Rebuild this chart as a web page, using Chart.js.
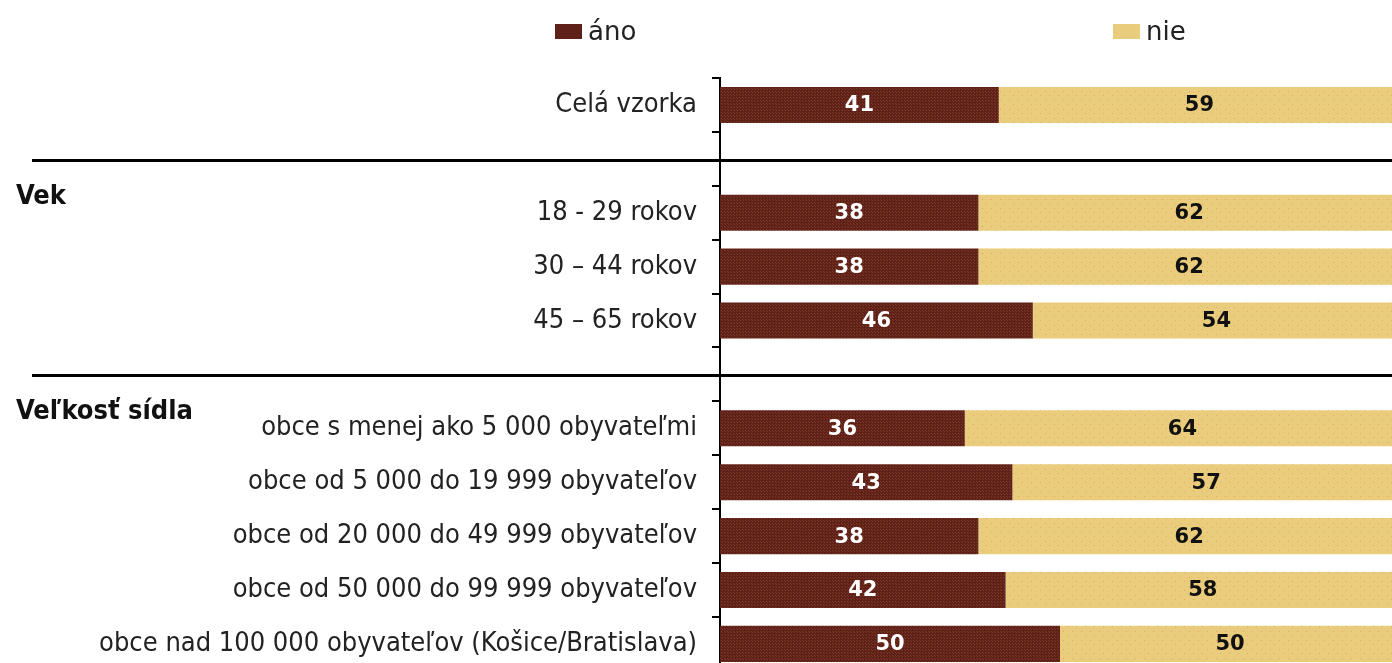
<!DOCTYPE html>
<html>
<head>
<meta charset="utf-8">
<script src="https://cdn.jsdelivr.net/npm/chart.js@4/dist/chart.umd.min.js"></script>
<style>
  html, body { margin: 0; padding: 0; background: #fff; overflow: hidden; width: 1392px; height: 663px; }
  #c { position: absolute; left: 0; top: 0; }
  .leg { position: absolute; font-family: "DejaVu Sans", sans-serif; font-size: 26px; color: #222; line-height: 30px; }
  .box { position: absolute; width: 27px; height: 15px; }
</style>
</head>
<body>
<canvas id="c" width="1400" height="702"></canvas>
<div class="box" id="boxA" style="left:555px; top:24px;"></div>
<div class="leg" id="legA" style="left:588px; top:16px;"></div>
<div class="box" id="boxN" style="left:1113px; top:24px;"></div>
<div class="leg" id="legN" style="left:1146px; top:16px;"></div>
<script>
// ---- data ----
const categories = [
  "Celá vzorka",
  "",
  "18 - 29 rokov",
  "30 – 44 rokov",
  "45 – 65 rokov",
  "",
  "obce s menej ako 5 000 obyvateľmi",
  "obce od 5 000 do 19 999 obyvateľov",
  "obce od 20 000 do 49 999 obyvateľov",
  "obce od 50 000 do 99 999 obyvateľov",
  "obce nad 100 000 obyvateľov (Košice/Bratislava)"
];
const seriesNames = ["áno", "nie"];
const anoValues = [41, null, 38, 38, 46, null, 36, 43, 38, 42, 50];
const nieValues = [59, null, 62, 62, 54, null, 64, 57, 62, 58, 50];
const separatorRows = [1, 5];
const sectionHeadings = ["Vek", "Veľkosť sídla"];
const sectionHeadingRows = [1.5, 5.5];

// ---- styles ----
const BROWN = "#5e2019";
const TAN = "#e9cd7c";

function makePattern(base, dot, step) {
  const c = document.createElement("canvas");
  c.width = step; c.height = step;
  const x = c.getContext("2d");
  x.fillStyle = base; x.fillRect(0, 0, step, step);
  x.fillStyle = dot;
  x.fillRect(1, 1, 1, 1);
  x.fillRect(Math.floor(step / 2) + 1, Math.floor(step / 2) + 1, 1, 1);
  return x.createPattern(c, "repeat");
}

document.getElementById("boxA").style.background = BROWN;
document.getElementById("boxN").style.background = TAN;
document.getElementById("legA").textContent = seriesNames[0];
document.getElementById("legN").textContent = seriesNames[1];

const labelFont = '"DejaVu Sans Condensed", "DejaVu Sans", sans-serif';

const decorPlugin = {
  id: "decor",
  afterDraw(chart) {
    const ctx = chart.ctx;
    const y = chart.scales.y;
    const area = chart.chartArea;
    ctx.save();
    ctx.strokeStyle = "#000";
    ctx.lineWidth = 3;
    separatorRows.forEach(r => {
      const py = Math.round(y.getPixelForValue(r)) + 1.5;
      ctx.beginPath();
      ctx.moveTo(32, py);
      ctx.lineTo(area.right + 10, py);
      ctx.stroke();
    });
    ctx.fillStyle = "#111";
    ctx.font = "bold 27px " + labelFont;
    ctx.textAlign = "left";
    ctx.textBaseline = "middle";
    sectionHeadings.forEach((t, i) => {
      const py = y.getPixelForValue(sectionHeadingRows[i]) + 11;
      ctx.fillText(t, 16, py);
    });
    ctx.restore();
  },
  afterDatasetsDraw(chart) {
    const ctx = chart.ctx;
    ctx.save();
    ctx.font = 'bold 21px "DejaVu Sans", sans-serif';
    ctx.textAlign = "center";
    ctx.textBaseline = "middle";
    chart.data.datasets.forEach((ds, di) => {
      const meta = chart.getDatasetMeta(di);
      meta.data.forEach((el, i) => {
        const v = ds.data[i];
        if (v === null || v === undefined) return;
        const cx = (el.x + el.base) / 2;
        ctx.fillStyle = di === 0 ? "#fff" : "#111";
        ctx.fillText(String(v), cx, el.y + 1);
      });
    });
    ctx.restore();
  }
};

new Chart(document.getElementById("c"), {
  type: "bar",
  data: {
    labels: categories,
    datasets: [
      { label: seriesNames[0], data: anoValues, backgroundColor: makePattern(BROWN, "#7a3a22", 3), borderWidth: 0, barPercentage: 0.67, categoryPercentage: 1 },
      { label: seriesNames[1], data: nieValues, backgroundColor: makePattern(TAN, "#f0a070", 9), borderWidth: 0, barPercentage: 0.67, categoryPercentage: 1 }
    ]
  },
  options: {
    indexAxis: "y",
    responsive: false,
    maintainAspectRatio: false,
    animation: false,
    layout: { padding: { top: 78, bottom: 19, left: 0, right: 0 } },
    plugins: { legend: { display: false }, tooltip: { enabled: false } },
    scales: {
      x: { stacked: true, min: 0, max: 100, display: false },
      y: {
        stacked: true,
        offset: true,
        grid: { offset: true, drawOnChartArea: false, drawTicks: true, tickLength: 8, color: "#000", lineWidth: 2 },
        border: { display: true, color: "#000", width: 2 },
        ticks: { color: "#222", padding: 15, font: { family: labelFont, size: 27 }, autoSkip: false },
        afterFit(scale) { scale.width = 720; }
      }
    }
  },
  plugins: [decorPlugin]
});
</script>
</body>
</html>
